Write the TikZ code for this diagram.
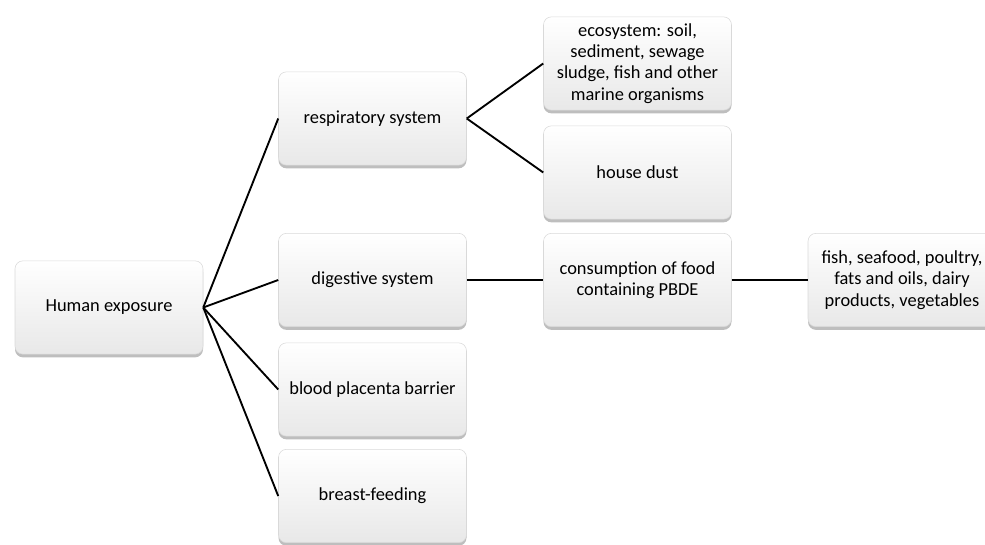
\documentclass[tikz,border=0pt]{standalone}
\usepackage{fontspec}
\setmainfont{Carlito}
\usetikzlibrary{shadows}

\tikzset{
  exbox/.style={rectangle, rounded corners=6pt, draw=gray!30, line width=0.4pt,
    top color=white, bottom color=gray!18, minimum width=141pt, minimum height=70pt,
    align=center, font=\fontsize{13.8}{16}\selectfont,
    drop shadow={shadow xshift=0pt, shadow yshift=-2.4pt, opacity=0.6, fill=gray!85}},
  link/.style={line width=1.4pt, black}
}

\begin{document}
\begin{tikzpicture}[x=0.75pt,y=-0.75pt]
\useasboundingbox (0,0) rectangle (985,545);
\draw (109,307.5) node[exbox] (human) {Human exposure};
\draw (372.5,118.5) node[exbox] (resp) {respiratory system};
\draw (372.5,280) node[exbox] (dig) {digestive system};
\draw (372.5,389.5) node[exbox] (blood) {blood placenta barrier};
\draw (372.5,496) node[exbox] (breast) {breast-feeding};
\draw (637.5,63.5) node[exbox] (eco) {ecosystem: soil,\\ sediment, sewage\\ sludge, fish and other\\ marine organisms};
\draw (637.5,172.5) node[exbox] (dust) {house dust};
\draw (637.5,280) node[exbox] (cons) {consumption of food\\ containing PBDE};
\draw (902,280) node[exbox] (fish) {fish, seafood, poultry,\\ fats and oils, dairy\\ products, vegetables};
\draw[link] (human.east) -- (resp.west);
\draw[link] (human.east) -- (dig.west);
\draw[link] (human.east) -- (blood.west);
\draw[link] (human.east) -- (breast.west);
\draw[link] (resp.east) -- (eco.west);
\draw[link] (resp.east) -- (dust.west);
\draw[link] (dig.east) -- (cons.west);
\draw[link] (cons.east) -- (fish.west);
\end{tikzpicture}
\end{document}
